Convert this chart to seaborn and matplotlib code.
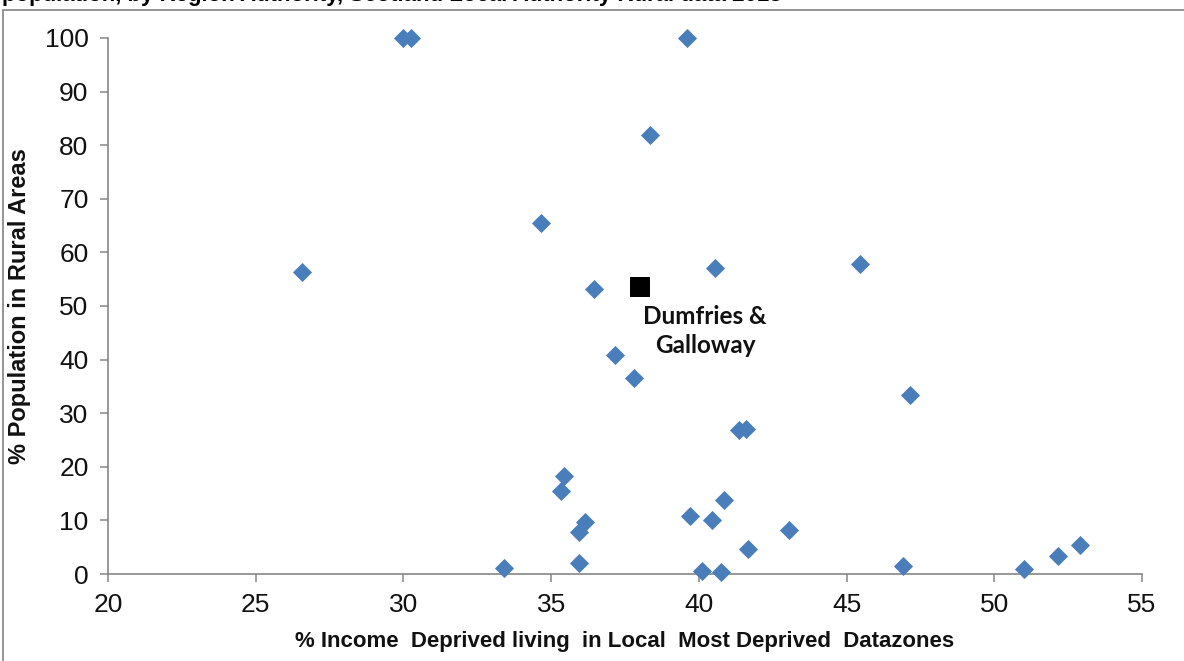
import matplotlib
matplotlib.use("Agg")
import matplotlib.pyplot as plt
import seaborn as sns
import pandas as pd
from matplotlib.patches import Rectangle

# Data
income_deprived = [30.0, 30.25, 39.6, 38.35, 34.65, 26.55, 36.45, 40.55, 45.45,
                   37.15, 37.8, 47.15, 41.35, 41.6, 35.45, 35.35, 36.15, 35.95,
                   35.95, 33.4, 39.7, 40.45, 40.85, 40.1, 40.75, 41.65, 43.05,
                   46.9, 51.0, 52.15, 52.9]
rural_pct = [100.0, 100.0, 100.0, 81.9, 65.5, 56.4, 53.1, 57.0, 57.8,
             40.8, 36.6, 33.4, 26.9, 27.1, 18.2, 15.5, 9.7, 7.8,
             2.0, 1.2, 10.8, 10.1, 13.8, 0.5, 0.3, 4.7, 8.2,
             1.4, 1.0, 3.3, 5.4]
highlight_name = "Dumfries &\nGalloway"
highlight_x = [38.0]
highlight_y = [53.6]

x_ticks = [20, 25, 30, 35, 40, 45, 50, 55]
y_ticks = [0, 10, 20, 30, 40, 50, 60, 70, 80, 90, 100]
x_label = "% Income  Deprived living  in Local  Most Deprived  Datazones"
y_label = "% Population in Rural Areas"
title_text = "population, by Region Authority, Scotland Local Authority Rural data 2013"

sns.set_theme(style="white")
plt.rcParams['font.family'] = ['Liberation Sans', 'DejaVu Sans']

W, H = 1184, 661
fig = plt.figure(figsize=(W / 100, H / 100), dpi=100)
fig.patch.set_facecolor("white")

# Outer chart border (top and left visible)
fig.patches.append(Rectangle((3 / W, -0.05), 1.2, (H - 10) / H + 0.05,
                             transform=fig.transFigure, fill=False,
                             edgecolor="#8c8c8c", linewidth=1.3))

# Title, clipped by the top edge as in the reference
fig.text(2 / W, 1 - 1.5 / H, title_text, ha="left", va="baseline",
         fontsize=16, fontweight="bold", color="black")

ax = fig.add_axes([108 / W, (H - 574) / H, (1142 - 108) / W, (574 - 38) / H])

df = pd.DataFrame({"x": income_deprived, "y": rural_pct})
sns.scatterplot(data=df, x="x", y="y", ax=ax, marker="D", s=95,
                color="#4A7EBB", linewidth=0, clip_on=False, zorder=3)

hdf = pd.DataFrame({"x": highlight_x, "y": highlight_y})
sns.scatterplot(data=hdf, x="x", y="y", ax=ax, marker="s", s=190,
                color="black", linewidth=0, clip_on=False, zorder=4)

ax.annotate(highlight_name, xy=(highlight_x[0], highlight_y[0]),
            xytext=(47, -32), textcoords="offset points",
            ha="center", va="center", fontsize=17.5, fontweight="bold",
            family=["Lato", "DejaVu Sans"], color="#111111", linespacing=1.3)

ax.set_xlim(20, 55)
ax.set_ylim(0, 100)
ax.set_xticks(x_ticks)
ax.set_yticks(y_ticks)
ax.set_xticklabels([str(t) for t in x_ticks])
ax.set_yticklabels([str(t) for t in y_ticks])

for side in ["top", "right"]:
    ax.spines[side].set_visible(False)
for side in ["left", "bottom"]:
    ax.spines[side].set_color("#868686")
    ax.spines[side].set_linewidth(1.2)

ax.tick_params(axis="both", which="major", direction="out", length=6,
               width=1.1, color="#868686", labelsize=19, labelcolor="#111111",
               pad=8, left=True, bottom=True)
ax.grid(False)

ax.set_xlabel(x_label, fontsize=16, fontweight="bold", color="#111111", labelpad=10)
ax.set_ylabel(y_label, fontsize=17, fontweight="bold", color="#111111", labelpad=10)

fig.savefig("out.png", dpi=100, facecolor="white")
